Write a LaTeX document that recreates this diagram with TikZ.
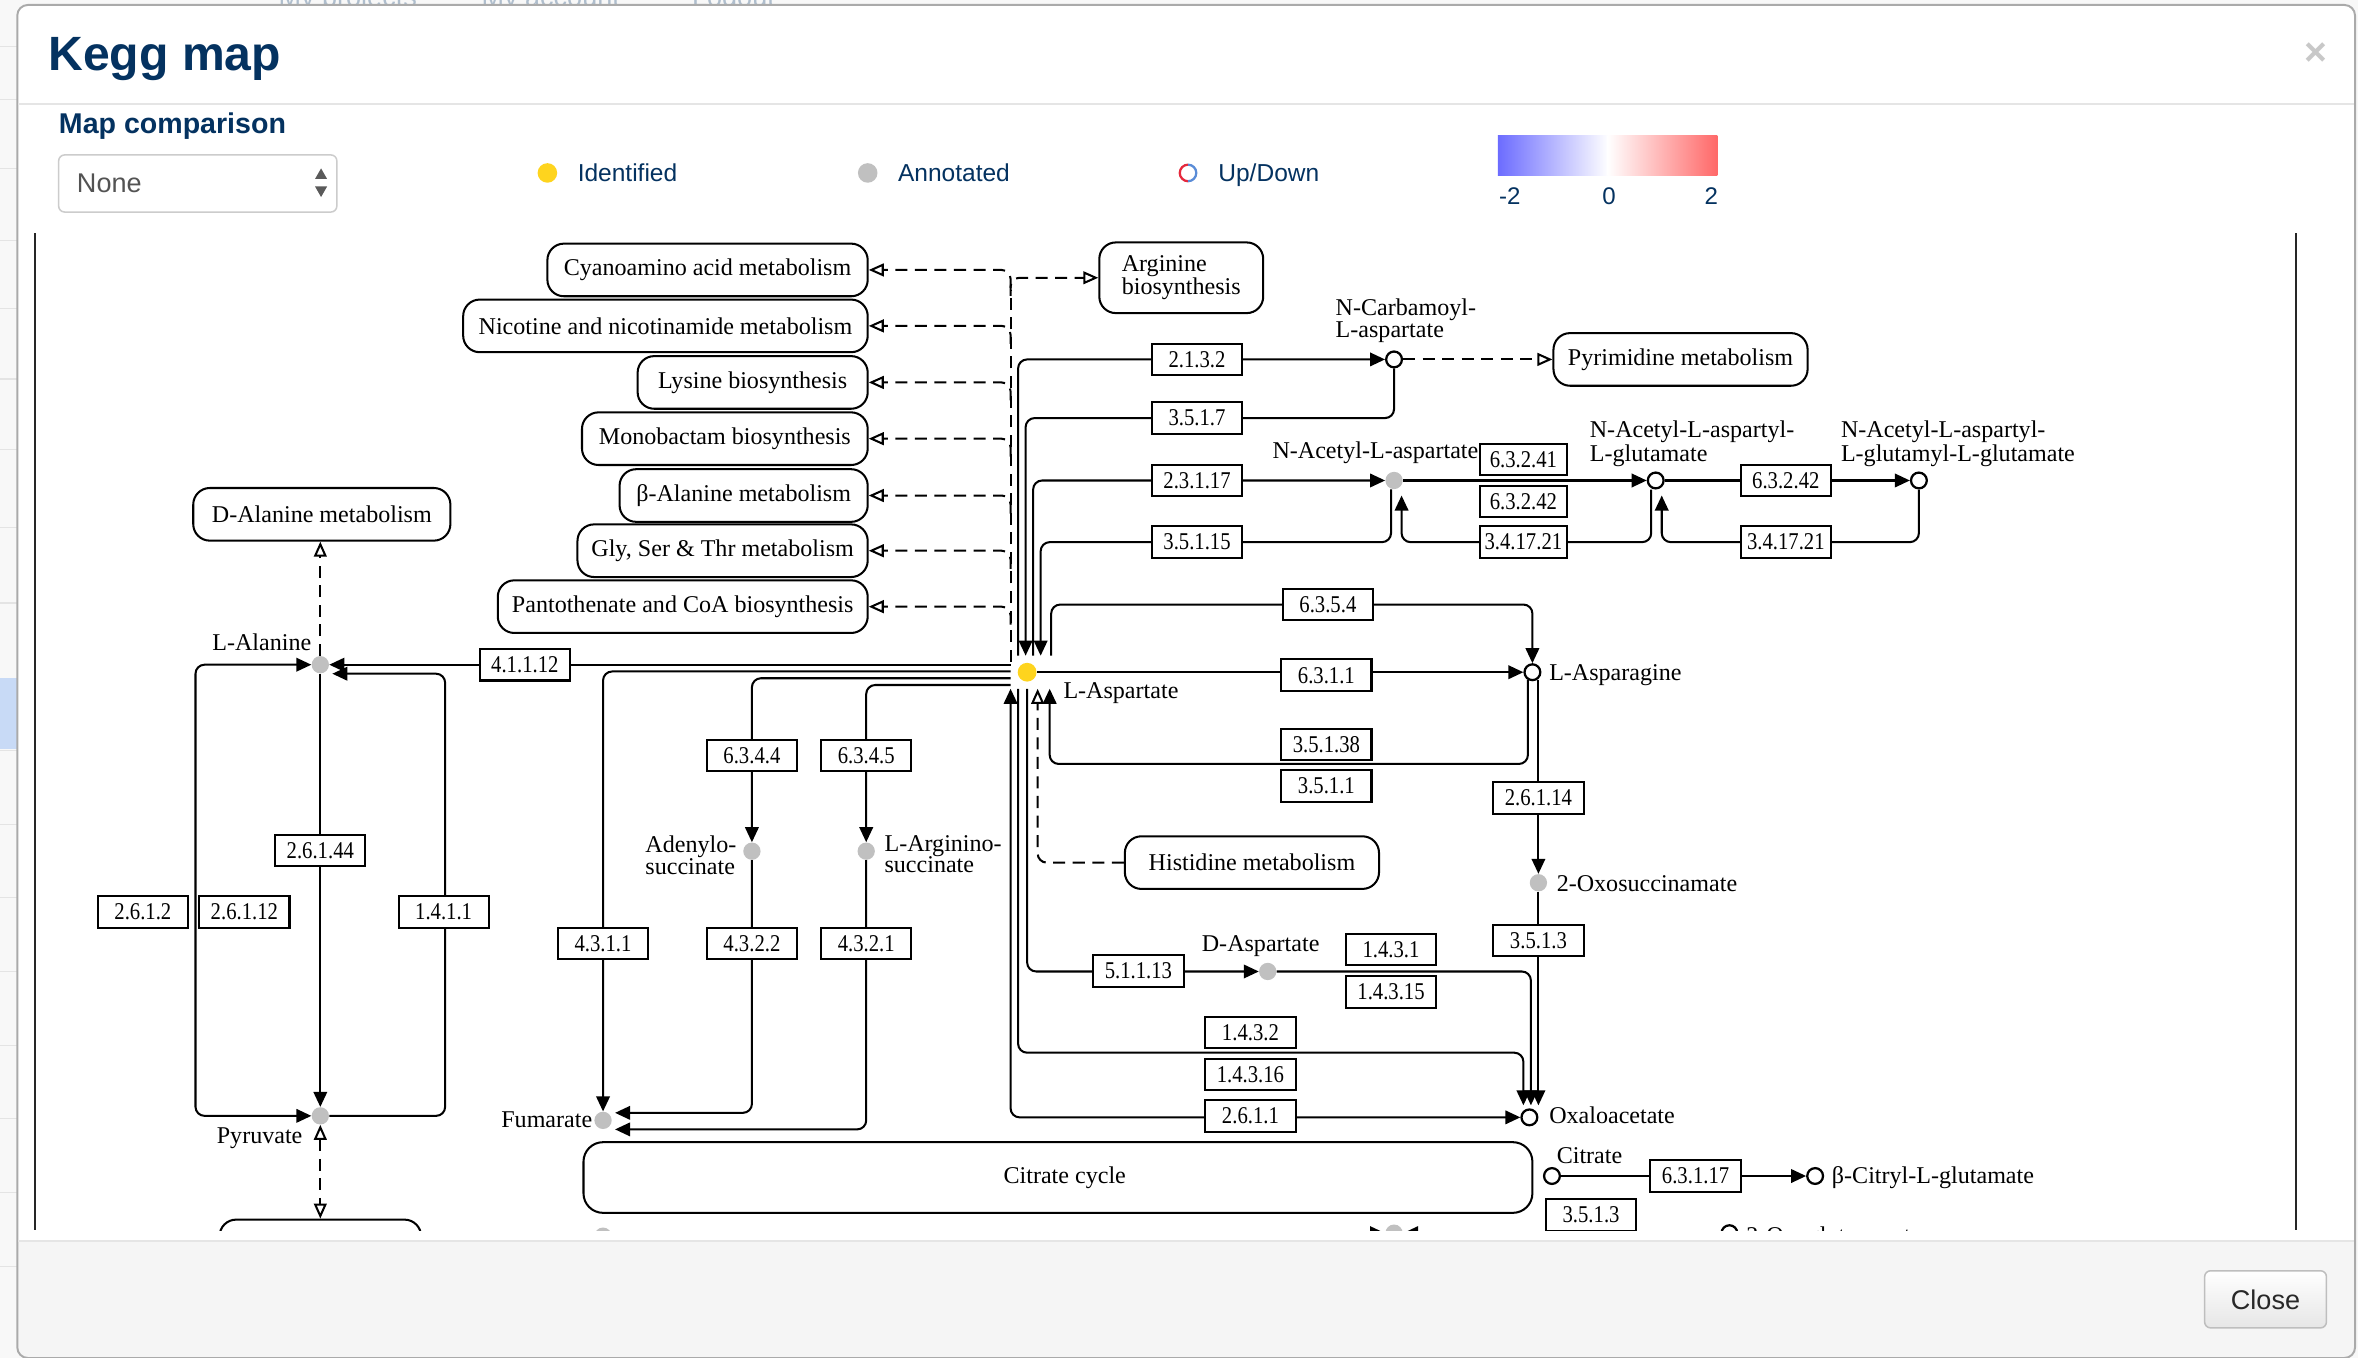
\documentclass[tikz,border=0pt]{standalone}
\usepackage{fontspec}
\setmainfont{Liberation Serif}
\newfontfamily\uifont{Liberation Sans}
\newfontfamily\enzfam[FakeStretch=0.86]{Liberation Serif}
\usetikzlibrary{arrows.meta,calc}
\pgfdeclarelayer{bgl}
\pgfdeclarelayer{wires}
\pgfsetlayers{bgl,wires,main}
\definecolor{navy}{RGB}{4,50,96}
\definecolor{kgray}{RGB}{192,192,192}
\definecolor{kyel}{RGB}{254,212,30}
\definecolor{cblue}{RGB}{108,108,255}
\definecolor{cred}{RGB}{255,104,104}
\definecolor{sepc}{RGB}{229,229,229}
\definecolor{footbg}{RGB}{245,245,245}
\definecolor{modalb}{RGB}{170,170,170}
\definecolor{selb}{RGB}{204,204,204}
\definecolor{stripbg}{RGB}{248,248,248}
\definecolor{stripl}{RGB}{228,228,228}
\definecolor{hilite}{RGB}{200,218,246}
\definecolor{fadetxt}{RGB}{175,190,205}
\definecolor{xgray}{RGB}{200,200,200}
\definecolor{btnbot}{RGB}{230,230,230}
\definecolor{btnb}{RGB}{190,190,190}
\definecolor{ink}{RGB}{40,40,40}
\definecolor{udred}{RGB}{230,40,60}
\definecolor{udblue}{RGB}{90,140,215}
\definecolor{selarr}{RGB}{90,90,90}
\newcommand\kfont{\fontsize{16}{14.5}\selectfont}
\newcommand\efont{\enzfam\fontsize{16}{16}\selectfont}
\tikzset{
  kl/.style={line width=1.35pt, rounded corners=6pt},
  kar/.style={-{Triangle[length=10pt,width=9pt]}},
  kbar/.style={{Triangle[length=10pt,width=9pt]}-{Triangle[length=10pt,width=9pt]}},
  kop/.style={-{Triangle[open,length=10pt,width=8.5pt]}},
  kbop/.style={{Triangle[open,length=10pt,width=8.5pt]}-{Triangle[open,length=10pt,width=8.5pt]}},
  kdash/.style={dash pattern=on 8pt off 5pt},
  enz/.style={draw, line width=1.35pt, fill=white, minimum width=60pt, minimum height=21pt, inner sep=0pt, font=\efont},
  pmap/.style={draw, line width=1.35pt, fill=white, rounded corners=11pt, minimum height=35pt, inner sep=0pt, font=\kfont},
  gc/.style={circle, fill=kgray, minimum size=11.5pt, inner sep=0pt},
  wc/.style={circle, draw, line width=1.5pt, fill=white, minimum size=10.5pt, inner sep=0pt},
  yc/.style={circle, fill=kyel, minimum size=12.5pt, inner sep=0pt},
  clab/.style={font=\kfont, inner sep=0pt, text height=10.8pt, text depth=3.5pt},
  mlab/.style={font=\kfont, inner sep=0pt, align=left},
  ui/.style={inner sep=0pt, text=navy},
}
\begin{document}
\begin{tikzpicture}[x=1pt,y=-1pt]
\useasboundingbox (0,0) rectangle (1568,903);

% ---------- page and modal background ----------
\begin{pgfonlayer}{bgl}
  \fill[stripbg] (0,0) rectangle (1568,903);
  \foreach \yy in {31,66,112,160,205,252,299,351,401,499,548,597,646,695,744,793,842}
    \draw[stripl, line width=0.8pt] (0,\yy) -- (11.5,\yy);
  \fill[hilite] (0,451) rectangle (11.5,498);
  \node[anchor=base west, font=\uifont\fontsize{18}{18}\selectfont, text=fadetxt, inner sep=0pt] (pg1) at (185,4) {My projects};
  \node[anchor=base west, font=\uifont\fontsize{18}{18}\selectfont, text=fadetxt, inner sep=0pt] (pg2) at (320,4) {My account};
  \node[anchor=base west, font=\uifont\fontsize{18}{18}\selectfont, text=fadetxt, inner sep=0pt] (pg3) at (460,4) {Logout};
  \begin{scope}
    \clip[rounded corners=7pt] (11.5,3.3) rectangle (1566,903);
    \fill[white] (0,0) rectangle (1568,825);
    \fill[footbg] (0,825) rectangle (1568,903);
  \end{scope}
  \draw[modalb, line width=1.3pt, rounded corners=7pt] (11.5,3.3) rectangle (1566,903);
  \draw[sepc, line width=1.2pt] (12.2,69) -- (1565.3,69);
  \draw[sepc, line width=1.2pt] (12.2,825) -- (1565.3,825);
\end{pgfonlayer}

% ---------- header ----------
\node[ui, anchor=base west, font=\uifont\bfseries\fontsize{32}{32}\selectfont] (title) at (32,47) {Kegg map};
\node[inner sep=0pt, text=xgray, font=\uifont\bfseries\fontsize{26}{26}\selectfont] (closex) at (1540,36) {×};
\node[ui, anchor=base west, font=\uifont\bfseries\fontsize{19}{19}\selectfont] (mapcmp) at (39,89) {Map comparison};
\node[draw=selb, line width=1pt, rounded corners=4pt, fill=white, minimum width=185pt, minimum height=38pt] (sel) at (131.5,122) {};
\node[anchor=base west, inner sep=0pt, text=ink!80, font=\uifont\fontsize{18}{18}\selectfont] (selval) at (51,128) {None};
\fill[selarr] (209.5,119) -- (217.5,119) -- (213.5,112) -- cycle;
\fill[selarr] (209.5,124) -- (217.5,124) -- (213.5,131) -- cycle;

% legend
\fill[kyel] (364,115) circle (6.5);
\node[ui, anchor=base west, font=\uifont\fontsize{16.3}{16}\selectfont] (legid) at (384,121) {Identified};
\fill[kgray] (577,115) circle (6.5);
\node[ui, anchor=base west, font=\uifont\fontsize{16.3}{16}\selectfont] (legan) at (597,121) {Annotated};
\draw[udred, line width=1.5pt] (790,109.5) arc (270:90:5.5);
\draw[udblue, line width=1.5pt] (790,109.5) arc (-90:90:5.5);
\node[ui, anchor=base west, font=\uifont\fontsize{16.3}{16}\selectfont] (legud) at (810,121) {Up/Down};
\shade[left color=cblue, right color=white] (996,90) rectangle (1069.6,117);
\shade[left color=white, right color=cred] (1069,90) rectangle (1142,117);
\node[ui, anchor=base, font=\uifont\fontsize{16}{16}\selectfont] (gm2) at (1004,136) {-2};
\node[ui, anchor=base, font=\uifont\fontsize{16}{16}\selectfont] (g0) at (1070,136) {0};
\node[ui, anchor=base, font=\uifont\fontsize{16}{16}\selectfont] (gp2) at (1138,136) {2};

% footer button
\node[draw=btnb, line width=1pt, rounded corners=4pt, top color=white, bottom color=btnbot, minimum width=81pt, minimum height=38pt, text=ink, font=\uifont\fontsize{18}{18}\selectfont] (closebtn) at (1506.5,864) {Close};

% map frame
\draw[line width=1.3pt, black!85] (23,155) -- (23,818);
\draw[line width=1.3pt, black!85] (1527,155) -- (1527,818);

% ---------- KEGG map nodes ----------
\begin{scope}
\clip (23.6,150) rectangle (1526.4,818);
% pathway maps
\node[pmap, minimum width=213pt] (mCyan) at (470.5,179.5) {Cyanoamino acid metabolism};
\node[pmap, minimum width=269pt] (mNic) at (442.5,216.7) {Nicotine and nicotinamide metabolism};
\node[pmap, minimum width=153pt] (mLys) at (500.5,254.3) {Lysine biosynthesis};
\node[pmap, minimum width=190pt] (mMono) at (482,291.7) {Monobactam biosynthesis};
\node[pmap, minimum width=165pt] (mBala) at (494.5,329.5) {β-Alanine metabolism};
\node[pmap, minimum width=193pt] (mGly) at (480.5,366.2) {Gly, Ser \& Thr metabolism};
\node[pmap, minimum width=246pt] (mPant) at (454,403.4) {Pantothenate and CoA biosynthesis};
\node[pmap, minimum width=109pt, minimum height=47pt, align=left, font=\fontsize{16}{14}\selectfont] (mArg) at (785.5,184.7) {Arginine\\biosynthesis};
\node[pmap, minimum width=169pt] (mPyr) at (1117.5,239) {Pyrimidine metabolism};
\node[pmap, minimum width=171pt] (mDala) at (214,342) {D-Alanine metabolism};
\node[pmap, minimum width=169pt] (mHis) at (832.5,573.6) {Histidine metabolism};
\node[pmap, minimum width=631pt, minimum height=47pt, rounded corners=13pt] (mCit) at (703.5,783) {\hspace*{9pt}Citrate cycle};
\node[pmap, minimum width=134pt, minimum height=38pt] (mBot) at (213,830) {};

% compounds
\node[yc] (asp) at (683,447) {};
\node[wc] (ncarb) at (927,239) {};
\node[gc] (naa) at (927,319.5) {};
\node[wc] (naag) at (1101,319.5) {};
\node[wc] (naagg) at (1276,319.5) {};
\node[wc] (asn) at (1019,447) {};
\node[gc] (oxs) at (1023,587) {};
\node[gc] (dasp) at (843,646) {};
\node[wc] (oaa) at (1017,743) {};
\node[wc] (cit) at (1032,782) {};
\node[wc] (bcit) at (1207,782) {};
\node[wc] (oxg) at (1150,820) {};
\node[gc] (ala) at (213,442) {};
\node[gc] (pyr) at (213,742) {};
\node[gc] (fum) at (401,745) {};
\node[gc] (adsucc) at (500,566) {};
\node[gc] (argsucc) at (576,566) {};
\node[gc] (botA) at (401,822) {};
\node[gc] (botB) at (927,820) {};

% compound labels
\node[clab, anchor=west] (lasp) at (707,461) {L-Aspartate};
\node[mlab, anchor=west] (lncarb) at (888,213) {N-Carbamoyl-\\L-aspartate};
\node[clab, anchor=west] (lnaa) at (846,301.5) {N-Acetyl-L-aspartate};
\node[mlab, anchor=west] (lnaag) at (1057,295) {N-Acetyl-L-aspartyl-\\L-glutamate};
\node[mlab, anchor=west] (lnaagg) at (1224,295) {N-Acetyl-L-aspartyl-\\L-glutamyl-L-glutamate};
\node[clab, anchor=west] (lasn) at (1030,449) {L-Asparagine};
\node[clab, anchor=west] (loxs) at (1035,589) {2-Oxosuccinamate};
\node[clab, anchor=west] (ldasp) at (799,629) {D-Aspartate};
\node[clab, anchor=west] (loaa) at (1030,743.5) {Oxaloacetate};
\node[clab, anchor=west] (lcit) at (1035,770) {Citrate};
\node[clab, anchor=west] (lbcit) at (1218,783) {β-Citryl-L-glutamate};
\node[clab, anchor=west] (loxg) at (1161,823) {2-Oxoglutaramate};
\node[clab, anchor=west] (lala) at (141,429) {L-Alanine};
\node[clab, anchor=west] (lpyr) at (144,757) {Pyruvate};
\node[clab, anchor=east] (lfum) at (394,746) {Fumarate};
\node[mlab, anchor=west] (lads) at (429,568.5) {Adenylo-\\succinate};
\node[mlab, anchor=west] (largs) at (588,568) {L-Arginino-\\succinate};

% enzymes
\node[enz] (e2132) at (796,239) {2.1.3.2};
\node[enz] (e3517) at (796,278) {3.5.1.7};
\node[enz] (e23117) at (796,319.5) {2.3.1.17};
\node[enz] (e35115) at (796,360.5) {3.5.1.15};
\node[enz] (e6354) at (883,402) {6.3.5.4};
\node[enz] (e6311) at (882,449) {6.3.1.1};
\node[enz] (e35138) at (882,495) {3.5.1.38};
\node[enz] (e3511) at (882,522.5) {3.5.1.1};
\node[enz, minimum width=58pt] (e63241) at (1013,305.5) {6.3.2.41};
\node[enz, minimum width=58pt] (e63242a) at (1013,333.5) {6.3.2.42};
\node[enz, minimum width=58pt] (e341721a) at (1013,360.5) {3.4.17.21};
\node[enz] (e63242b) at (1187.5,319.5) {6.3.2.42};
\node[enz] (e341721b) at (1187.5,360.5) {3.4.17.21};
\node[enz] (e41112) at (349,442) {4.1.1.12};
\node[enz] (e26144) at (213,565.5) {2.6.1.44};
\node[enz] (e2612) at (95,606.5) {2.6.1.2};
\node[enz] (e26112) at (162.5,606.5) {2.6.1.12};
\node[enz] (e1411) at (295,606.5) {1.4.1.1};
\node[enz] (e6344) at (500,502.5) {6.3.4.4};
\node[enz] (e6345) at (576,502.5) {6.3.4.5};
\node[enz] (e4311) at (401,627.5) {4.3.1.1};
\node[enz] (e4322) at (500,627.5) {4.3.2.2};
\node[enz] (e4321) at (576,627.5) {4.3.2.1};
\node[enz] (e26114) at (1023,530.5) {2.6.1.14};
\node[enz] (e3513a) at (1023,625.5) {3.5.1.3};
\node[enz] (e51113) at (757,645.5) {5.1.1.13};
\node[enz] (e1431) at (925,631.5) {1.4.3.1};
\node[enz] (e14315) at (925,659.5) {1.4.3.15};
\node[enz] (e1432) at (831.5,686.5) {1.4.3.2};
\node[enz] (e14316) at (831.5,714.5) {1.4.3.16};
\node[enz] (e2611) at (831.5,742) {2.6.1.1};
\node[enz] (e63117) at (1127.5,782) {6.3.1.17};
\node[enz] (e3513b) at (1058,808) {3.5.1.3};
\coordinate (trunk) at (672,300);
\end{scope}

% ---------- KEGG map connectors ----------
\begin{pgfonlayer}{wires}
\begin{scope}
\clip (23.6,150) rectangle (1526.4,818);
% dashed links to other maps
\draw[kl,kdash] ($(asp -| trunk)+(0,-7)$) -- ($(mArg.west -| trunk)+(0,8)$);
\foreach \m in {mCyan,mNic,mLys,mMono,mBala,mGly,mPant}
  \draw[kl,kdash,kop] ($(\m.east -| trunk)+(0,12)$) |- (\m.east);
\draw[kl,kdash,kop] ($(mArg.west -| trunk)+(0,12)$) |- (mArg.west);
\draw[kl,kdash,kop] (ncarb) -- (mPyr);
\draw[kl,kdash,kop] (mHis.west) -| ($(asp)+(7,11)$);
\draw[kl,kdash,kop] (ala.north) -- (ala.north |- mDala.south);
\draw[kl,kdash,kbop] (pyr.south) -- (pyr.south |- mBot.north);

% upper reactions
\draw[kl,kar] ($(asp)+(-6,-11)$) |- (e2132.center) -- (ncarb);
\draw[kl,kar] (ncarb.south) |- (e3517.center) -| ($(asp)+(-1,-11)$);
\draw[kl,kar] ($(asp)+(4,-11)$) |- (e23117.center) -- (naa);
\draw[kl,kar] ($(naa.south)+(-2,0)$) |- (e35115.center) -| ($(asp)+(9,-11)$);
\draw[kl,kar] (naa) -- (naag);
\draw[kl,kar] ($(naag.south)+(-3,0)$) |- (e341721a.center) -| ($(naa)+(5,10)$);
\draw[kl,kar] (naag) -- (naagg);
\draw[kl,kar] (naagg.south) |- (e341721b.center) -| ($(naag)+(4,10)$);
\draw[kl,kar] ($(asp)+(16,-11)$) |- (e6354.center) -| (asn.north);

% asparagine branch
\draw[kl,kar] (asp) -- (asn);
\draw[kl,kar] ($(asn)+(-3,5)$) |- ($(asp)+(15,61)$) -- ($(asp)+(15,11)$);
\draw[kl,kar] ($(asn)+(4,5)$) -- (oxs.north);
\draw[kl,kar] (oxs.south) -- ($(oaa)+(6,-8)$);

% lower reactions
\draw[kl,kar] ($(asp)+(0,11)$) |- (dasp);
\draw[kl,kar] (dasp.east) -| ($(oaa)+(1,-8)$);
\draw[kl,kar] ($(asp)+(-6,11)$) |- ($(oaa)+(-4,-43)$) -- ($(oaa)+(-4,-8)$);
\draw[kl,kbar] ($(asp)+(-11,11)$) |- (oaa);
\draw[kl,kar] (cit) -- (bcit);

% left reactions
\draw[kl,kar] ($(asp)+(-11,-5)$) -- (ala);
\draw[kl,kar] ($(asp)+(-11,-0.5)$) -| (fum.north);
\draw[kl,kar] ($(asp)+(-11,4)$) -| (adsucc.north);
\draw[kl,kar] ($(asp)+(-11,8.5)$) -| (argsucc.north);
\draw[kl,kar] (adsucc.south) |- ($(fum)+(8,-5)$);
\draw[kl,kar] (argsucc.south) |- ($(fum)+(8,6)$);

% alanine / pyruvate
\draw[kl,kbar] (ala.west) -- ($(ala)+(-83,0)$) -- ($(pyr)+(-83,0)$) -- (pyr.west);
\draw[kl,kar] (ala.south) -- (pyr.north);
\draw[kl,kar] (pyr.east) -- ($(pyr)+(83,0)$) -- ($(ala)+(83,6)$) -- ($(ala)+(8,6)$);

% bottom edge
\draw[kl,kar] ($(botB)+(-30,0)$) -- (botB);
\draw[kl,kar] ($(botB)+(30,0)$) -- (botB);
\end{scope}
\end{pgfonlayer}
\end{tikzpicture}
\end{document}
